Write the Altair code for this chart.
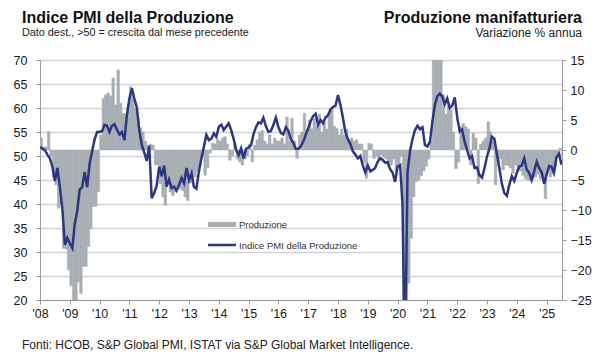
import altair as alt
import pandas as pd

# Indice PMI della Produzione (left axis), monthly Jan 2008 - Jul 2025
pmi = [
    51.9, 51.5, 51.2, 50.3, 49.5, 47.8, 44.8, 47.5, 43.5, 39.0, 31.5, 32.9,   # 2008
    31.8, 30.8, 35.8, 38.5, 43.0, 43.5, 46.7, 43.5, 48.5, 51.0, 53.5, 55.0,   # 2009
    55.0, 55.2, 56.5, 56.3, 55.0, 56.3, 56.6, 55.5, 54.5, 55.0, 53.3, 58.5,   # 2010
    62.0, 64.1, 62.0, 60.2, 55.5, 52.3, 50.8, 49.0, 52.1, 41.2, 42.3, 43.8,   # 2011
    47.8, 45.8, 48.0, 43.6, 45.1, 43.3, 43.6, 42.8, 44.0, 45.4, 44.3, 47.5,   # 2012
    45.0, 46.4, 43.6, 43.2, 46.7, 49.5, 51.9, 54.4, 53.3, 53.6, 54.7, 54.0,   # 2013
    56.1, 56.5, 55.4, 56.1, 56.8, 55.4, 53.6, 51.3, 50.2, 51.6, 49.5, 51.5,   # 2014
    51.8, 52.3, 54.5, 56.0, 57.0, 56.8, 58.0, 56.2, 55.0, 55.2, 56.5, 58.0,   # 2015
    56.0, 54.8, 54.5, 56.0, 55.3, 53.5, 52.8, 51.5, 51.5, 52.0, 53.0, 54.4,   # 2016
    55.8, 57.3, 58.3, 58.8, 56.5, 57.5, 56.8, 58.0, 58.5, 59.7, 60.2, 60.5,   # 2017
    62.7, 60.5, 58.0, 55.0, 53.5, 52.5, 51.0, 50.3, 49.5, 50.0, 48.0, 46.6,   # 2018
    48.0, 46.8, 47.1, 47.5, 48.8, 49.5, 49.2, 48.6, 48.7, 47.3, 46.5, 44.6,   # 2019
    47.8, 48.1, 40.0, 5.0, 46.5, 51.0, 53.5, 55.4, 56.3, 55.6, 56.0, 52.3,    # 2020
    52.0, 53.0, 57.0, 60.6, 62.4, 63.0, 62.4, 60.8, 62.0, 60.0, 60.5, 62.2,   # 2021
    58.0, 55.1, 55.5, 53.0, 51.3, 49.5, 50.0, 47.5, 47.6, 46.0, 45.5, 47.5,   # 2022
    49.9, 51.7, 54.0, 53.6, 50.5, 47.5, 44.3, 42.3, 41.7, 44.0, 45.8, 44.8,   # 2023
    46.5, 47.8, 48.0, 49.5, 47.2, 46.5, 45.0, 46.8, 48.8, 47.5, 46.6, 44.2,   # 2024
    46.2, 47.9, 47.8, 46.5, 49.7, 50.5, 48.2,                                 # 2025
]

# Produzione manifatturiera, variazione % annua (right axis)
produzione = [
    2.0, 0.5, 0.5, 3.1, -1.0, -4.5, -5.8, -9.7, -9.0, -16.4, -16.5, -20.0,
    -22.6, -25.5, -26.5, -22.0, -23.9, -19.4, -19.4, -16.1, -13.1, -9.4, -9.4, -6.9,
    2.5, 8.6, 9.2, 9.5, 9.0, 12.0, 7.5, 13.3, 7.8, 6.1, 6.0, 7.2,
    10.6, 8.6, 7.0, 5.5, 3.7, 3.0, 1.5, 0.8, 1.0, 0.8, -2.5, -2.5,
    -5.6, -7.8, -9.2, -5.5, -7.0, -7.6, -7.0, -6.0, -6.5, -6.8, -7.8, -8.4,
    -5.5, -5.0, -4.5, -3.5, -2.5, -1.2, -4.2, -3.0, -0.5, 1.1, 1.0, 1.7,
    1.5, 2.0, 2.2, 1.0, -1.7, -1.0, 1.1, -1.5, -2.0, -2.5, -1.5, -1.0,
    1.0, -2.0, 0.8, 1.7, 3.0, 3.3, 1.5, 1.0, 2.5, 1.0, 2.0, 1.5,
    1.5, 2.0, 1.0, 5.5, 1.5, 5.3, 1.5, -1.4, 2.5, 3.0, 6.1, 3.5,
    5.0, 3.5, 5.2, 4.0, 6.0, 3.0, 4.7, 3.5, 6.2, 6.7, 4.0, 3.6,
    2.5, 3.5, 2.5, 3.5, 1.7, 2.0, 1.5, 1.7, 1.0, 1.0, -2.0, -4.7,
    1.1, 1.0, -1.4, -1.0, -1.5, -0.8, -1.2, -1.5, -2.0, -2.5, -1.5, -3.6,
    -2.5, -1.0, -29.0, -43.0, -22.2, -14.7, -7.8, -5.3, -5.0, -4.3, -3.5, -2.7,
    -1.5, 1.5, 35.0, 80.0, 22.0, 16.0, 9.2, 6.0, 7.5, 6.7, 3.0, -3.1,
    -2.0, 3.9, 4.4, 3.9, 3.5, -2.5, 2.8, 2.0, -5.6, 1.0, 1.5, 2.0,
    4.7, 3.0, 1.5, -5.8, -2.5, -1.5, -3.3, -2.5, -2.6, -3.0, -3.9, -2.5,
    -3.5, -3.5, -4.2, -4.8, -5.0, -5.1, -4.8, -4.5, -4.0, -4.8, -4.5, -8.1,
    -3.5, -4.5, -4.0, -2.5, -0.8, 0.3, -1.0,
]

anni = list(range(2008, 2026))
left_ticks = list(range(20, 75, 5))
right_ticks = list(range(-25, 20, 5))

BAR_C = "#a8aeb3"
LINE_C = "#2b3784"
FONT = "Liberation Sans"

dates = pd.date_range("2008-01-01", periods=len(pmi), freq="MS")
df = pd.DataFrame({
    "date": dates,
    "date_end": dates + pd.offsets.MonthBegin(1),
    "pmi": pmi,
    "prod": produzione,
})

xscale = alt.Scale(domain=[alt.DateTime(year=2008, month=1, date=1),
                           alt.DateTime(year=2025, month=7, date=8)])
xaxis = alt.Axis(values=[alt.DateTime(year=y, month=1, date=1) for y in anni],
                 format="'%y", formatType="time", title="", grid=False,
                 domainColor="#9a9a9a", tickColor="#9a9a9a", tickSize=4,
                 labelFontSize=12.5, labelFont=FONT, labelColor="#1a1a1a",
                 labelPadding=3, labelFlush=False)

bars = alt.Chart(df).mark_bar(color=BAR_C, stroke=BAR_C, strokeWidth=0.6, clip=True).encode(
    x=alt.X("date:T", scale=xscale, axis=xaxis),
    x2="date_end:T",
    y=alt.Y("prod:Q", scale=alt.Scale(domain=[-25, 15], nice=False, zero=False),
            axis=alt.Axis(orient="right", values=right_ticks, title="", grid=False,
                          domainColor="#9a9a9a", tickColor="#9a9a9a", tickSize=4,
                          labelFontSize=12.5, labelFont=FONT, labelColor="#1a1a1a",
                          labelPadding=4)),
    y2=alt.datum(0),
)

line = alt.Chart(df).mark_line(color=LINE_C, strokeWidth=2.5, clip=True).encode(
    x=alt.X("date:T", scale=xscale, axis=xaxis),
    y=alt.Y("pmi:Q", scale=alt.Scale(domain=[20, 70], nice=False, zero=False),
            axis=alt.Axis(orient="left", values=left_ticks, title="", grid=True,
                          gridColor="#d3d3d3", gridWidth=1.5,
                          domainColor="#9a9a9a", tickColor="#9a9a9a", tickSize=4,
                          labelFontSize=12.5, labelFont=FONT, labelColor="#1a1a1a",
                          labelPadding=9)),
)

def txt(s, x, y, size, bold=False, align="left", baseline="alphabetic", color="#111111"):
    return alt.Chart(pd.DataFrame({"t": [s]})).mark_text(
        align=align, baseline=baseline, fontSize=size, font=FONT,
        fontWeight="bold" if bold else "normal", color=color,
    ).encode(x=alt.value(x), y=alt.value(y), text="t:N")

leg_bar = alt.Chart(pd.DataFrame({"t": ["Produzione"]})).mark_rect(color=BAR_C).encode(
    x=alt.value(168), x2=alt.value(196), y=alt.value(162), y2=alt.value(167))
leg_line = alt.Chart(pd.DataFrame({"t": ["Indice PMI della Produzione"]})).mark_rule(
    color=LINE_C, strokeWidth=2.5).encode(
    x=alt.value(168), x2=alt.value(196), y=alt.value(185))

chart = alt.layer(
    bars,
    line,
    leg_bar,
    leg_line,
    txt("Produzione", 199, 164.5, 9.5, baseline="middle", color="#333333"),
    txt("Indice PMI della Produzione", 199, 185.5, 9.5, baseline="middle", color="#333333"),
    txt("Indice PMI della Produzione", -18, -37, 16, bold=True),
    txt("Dato dest., >50 = crescita dal mese precedente", -18, -24.5, 10.8, color="#222222"),
    txt("Produzione manifatturiera", 542, -37, 16, bold=True, align="right"),
    txt("Variazione % annua", 542, -23.5, 12, align="right", color="#222222"),
    txt("Fonti: HCOB, S&P Global PMI, ISTAT via S&P Global Market Intelligence.", -18, 289, 12,
        color="#222222"),
).resolve_scale(y="independent").properties(
    width=522, height=240,
    padding={"left": 32, "top": 52, "right": 30, "bottom": 52},
    autosize=alt.AutoSizeParams(type="none"),
).configure_view(stroke=None)

chart.save("out.html", embed_options={"renderer": "svg", "actions": False})
